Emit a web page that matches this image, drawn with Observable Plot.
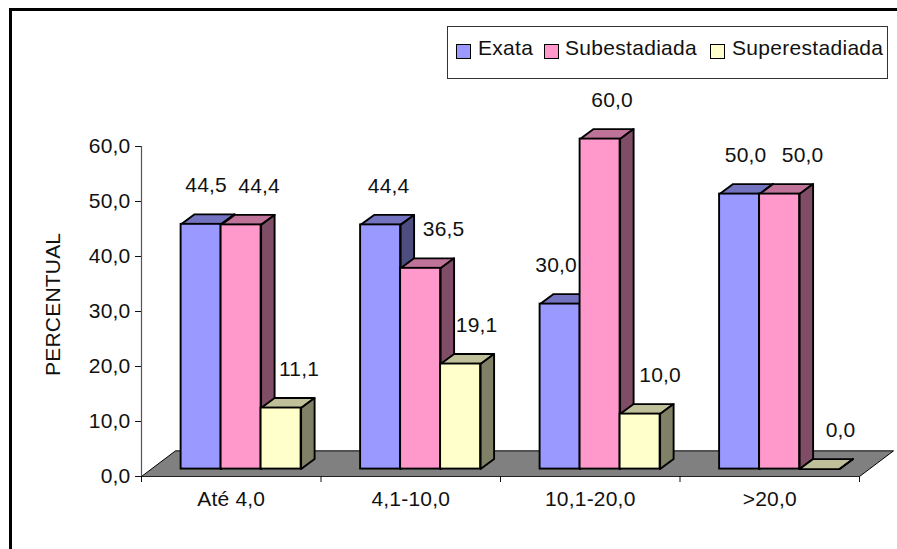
<!DOCTYPE html>
<html>
<head>
<meta charset="utf-8">
<style>
  html, body { margin: 0; padding: 0; background: #fff; }
  #chart { position: relative; width: 897px; height: 549px; overflow: hidden; font-family: "Liberation Sans", Arial, sans-serif; color: #111; }
  #chart svg { position: absolute; left: 0; top: 0; }
  .border { position: absolute; left: 9px; top: 8px; width: 900px; height: 600px; border-top: 3px solid #000; border-left: 3px solid #000; }
  .legend { position: absolute; left: 447px; top: 26px; width: 439px; height: 51px; border: 1px solid #333; background: #fff; font-size: 21px; letter-spacing: 0.3px; }
  .legend i { position: absolute; top: 17px; width: 13px; height: 13px; border: 1.8px solid #000; }
  .legend span { position: absolute; top: 9px; line-height: 24px; white-space: nowrap; }
</style>
<script src="https://cdn.jsdelivr.net/npm/d3@7"></script>
<script src="https://cdn.jsdelivr.net/npm/@observablehq/plot@0.6"></script>
</head>
<body>
<div id="chart"><div class="border"></div></div>
<script>
const categories = ["Até 4,0", "4,1-10,0", "10,1-20,0", ">20,0"];
const seriesNames = ["Exata", "Subestadiada", "Superestadiada"];
const exata = [44.5, 44.4, 30.0, 50.0];
const subestadiada = [44.4, 36.5, 60.0, 50.0];
const superestadiada = [11.1, 19.1, 10.0, 0.0];
const seriesValues = [exata, subestadiada, superestadiada];

const frontColors = ["#9999FF", "#FF99CC", "#FFFFCC"];
const topColors = ["#7373BF", "#BF7399", "#BFBF99"];
const sideColors = ["#4D4D80", "#804D66", "#808066"];

// Oblique projection, in data units: one category on x, one percentage point on y.
const pxPerCategory = 179.5;
const pxPerUnit = 5.515;
const barWidth = 40 / pxPerCategory;
const barLead = 39.6 / pxPerCategory;
const barBase = 1.35;
const depthX = 13.5 / pxPerCategory;
const depthY = 10 / pxPerUnit;
const floorDepthX = 34 / pxPerCategory;
const floorDepthY = 25.7 / pxPerUnit;
const labelRise = 39 / pxPerUnit;

// Horizontal shift of each value label from its bar centre, in pixels.
const labelShift = [
  [5, 8, -4, 6],
  [18, 23, 12, 23],
  [18, 16, 20, 21]
];

const fmt = (v) => v.toFixed(1).replace(".", ",");

const polygon = (id, color, corners) =>
  [...corners, corners[0]].map(([x, y]) => ({id, color, x, y}));

const floor = polygon("floor", "#808080", [
  [0, 0], [4, 0], [4 + floorDepthX, floorDepthY], [floorDepthX, floorDepthY]
]);

// Top and side faces of one series, then its front faces.
const barMarks = seriesValues.flatMap((values, s) => {
  const bars = values.map((v, g) => {
    const x1 = g + barLead + s * barWidth;
    return {x1, x2: x1 + barWidth, y1: barBase, y2: barBase + v, color: frontColors[s]};
  });
  const faces = bars.flatMap((b, g) => [
    ...polygon(`t${s}${g}`, topColors[s], [
      [b.x1, b.y2], [b.x2, b.y2], [b.x2 + depthX, b.y2 + depthY], [b.x1 + depthX, b.y2 + depthY]
    ]),
    ...polygon(`r${s}${g}`, sideColors[s], [
      [b.x2, b.y1], [b.x2, b.y2], [b.x2 + depthX, b.y2 + depthY], [b.x2 + depthX, b.y1 + depthY]
    ])
  ]);
  return [
    Plot.line(faces, {x: "x", y: "y", z: "id", fill: "color", stroke: "#000", strokeWidth: 1.9, strokeLinejoin: "round"}),
    Plot.rect(bars, {x1: "x1", x2: "x2", y1: "y1", y2: "y2", fill: "color", stroke: "#000", strokeWidth: 1.9})
  ];
});

const valueLabels = seriesValues.flatMap((values, s) =>
  values.map((v, g) => ({
    text: fmt(v),
    x: g + barLead + (s + 0.5) * barWidth + labelShift[s][g] / pxPerCategory,
    y: barBase + v + labelRise
  }))
);

const plot = Plot.plot({
  width: 897,
  height: 549,
  marginLeft: 141,
  marginRight: 38,
  marginTop: 146,
  marginBottom: 73,
  style: {fontFamily: "'Liberation Sans', Arial, sans-serif", fontSize: "21px", color: "#111", background: "transparent", overflow: "visible", letterSpacing: "0.2px"},
  x: {type: "linear", domain: [0, 4], axis: null},
  y: {domain: [0, 60], axis: null},
  marks: [
    Plot.line(floor, {x: "x", y: "y", z: "id", fill: "color", stroke: "#000", strokeWidth: 1}),
    Plot.ruleX([0], {y1: 0, y2: 60, stroke: "#555", strokeWidth: 1.2}),
    Plot.ruleY([0], {x1: 0, x2: 4, stroke: "#222", strokeWidth: 1.2}),
    Plot.axisY({
      ticks: d3.range(0, 61, 10), tickFormat: fmt, tickSize: 6, tickPadding: 5, fontSize: 21, label: null
    }),
    Plot.text(["PERCENTUAL"], {
      x: -88 / pxPerCategory, y: 31.3, text: (d) => d, rotate: -90, fontSize: 21, fill: "#111"
    }),
    Plot.axisX({ticks: d3.range(0, 5), tickFormat: () => "", tickSize: 6, label: null}),
    Plot.axisX({
      ticks: categories.map((_, i) => i + 0.5),
      tickFormat: (d) => categories[Math.floor(d)],
      tickSize: 0, tickPadding: 15, fontSize: 21, label: null
    }),
    ...barMarks,
    Plot.text(valueLabels, {x: "x", y: "y", text: "text", fontSize: 21, fill: "#111"})
  ]
});
document.getElementById("chart").appendChild(plot);

// Legend box sitting over the upper right of the plot area.
const legend = document.createElement("div");
legend.className = "legend";
const legendSwatchAt = [8, 96, 262];
const legendTextAt = [30, 117, 284];
seriesNames.forEach((name, s) => {
  const swatch = document.createElement("i");
  swatch.style.left = legendSwatchAt[s] + "px";
  swatch.style.background = frontColors[s];
  const label = document.createElement("span");
  label.style.left = legendTextAt[s] + "px";
  label.textContent = name;
  legend.append(swatch, label);
});
document.getElementById("chart").appendChild(legend);
</script>
</body>
</html>
